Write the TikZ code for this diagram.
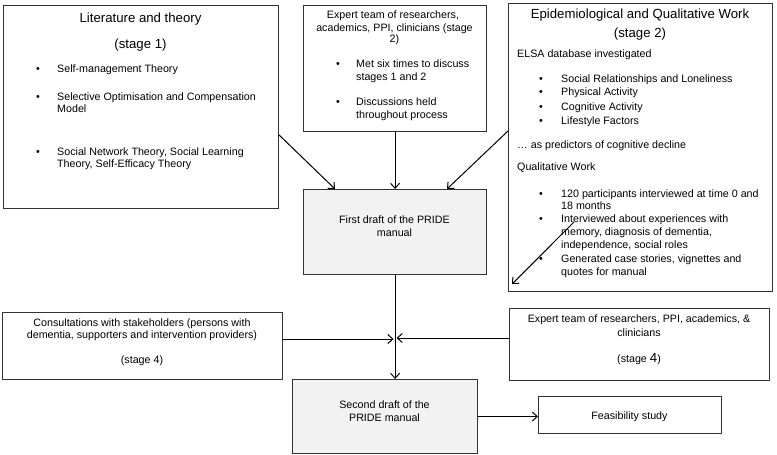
\documentclass[tikz,border=0pt]{standalone}
\usepackage{fontspec}
\setmainfont{Liberation Sans}
\usetikzlibrary{arrows.meta,calc}
\newcommand{\bodyfont}{\fontsize{10.7}{12.5}\selectfont}
\newcommand{\titlefont}{\fontsize{13.2}{15}\selectfont}
\definecolor{boxgray}{HTML}{F2F2F2}
\definecolor{edge}{HTML}{333333}
\begin{document}
\begin{tikzpicture}[x=1pt,y=-1pt,
  box/.style={draw=edge, line width=1.1pt, inner sep=0pt, anchor=north west, rectangle},
  fillbox/.style={box, fill=boxgray},
  arr/.style={draw=black, line width=1pt, -{Straight Barb[length=5pt,width=9pt]}},
  txt/.style={inner sep=0pt, font=\bodyfont, anchor=base west},
  txtc/.style={inner sep=0pt, font=\bodyfont, anchor=base},
  ttl/.style={inner sep=0pt, font=\titlefont, anchor=base},
  bul/.style={inner sep=0pt, font=\bodyfont, anchor=base}]
\useasboundingbox (0,0) rectangle (777,455);

% ---------- boxes ----------
\node[box, minimum width=275pt, minimum height=203pt] (lit) at (3,5) {};
\node[box, minimum width=183pt, minimum height=126pt] (exp2) at (303,5) {};
\node[box, minimum width=264pt, minimum height=288pt] (epi) at (508,3) {};
\node[fillbox, minimum width=183pt, minimum height=85pt] (fd) at (303,189) {};
\node[box, minimum width=280pt, minimum height=67pt] (cons) at (2,312) {};
\node[box, minimum width=260pt, minimum height=72pt] (exp4) at (509,308) {};
\node[fillbox, minimum width=185pt, minimum height=74pt] (sd) at (292,379) {};
\node[box, minimum width=183pt, minimum height=37pt] (feas) at (538,396) {};

% ---------- Literature and theory ----------
\node[ttl] (l0) at (140.5,22) {Literature and theory};
\node[ttl] (l0b) at (140.5,48) {(stage 1)};
\node[bul] (lb1) at (38,72) {\textbullet};
\node[txt] (l1) at (57,72) {Self-management Theory};
\node[bul] (lb2) at (38,100) {\textbullet};
\node[txt] (l2) at (57,100) {Selective Optimisation and Compensation};
\node[txt] (l2b) at (57,112) {Model};
\node[bul] (lb3) at (38,155) {\textbullet};
\node[txt] (l3) at (57,155) {Social Network Theory, Social Learning};
\node[txt] (l3b) at (57,167) {Theory, Self-Efficacy Theory};

% ---------- Expert team stage 2 ----------
\node[txtc] (e1) at (393,19) {Expert team of researchers,};
\node[txtc] (e2) at (394.5,31) {academics, PPI, clinicians (stage};
\node[txtc] (e3) at (394.5,42) {2)};
\node[bul] (eb1) at (338,67) {\textbullet};
\node[txt] (e4) at (356,67) {Met six times to discuss};
\node[txt] (e5) at (356,80) {stages 1 and 2};
\node[bul] (eb2) at (338,105) {\textbullet};
\node[txt] (e6) at (356,105) {Discussions held};
\node[txt] (e7) at (356,118) {throughout process};

% ---------- Epidemiological ----------
\node[ttl] (p0) at (640,18) {Epidemiological and Qualitative Work};
\node[ttl] (p0b) at (640,37) {(stage 2)};
\node[txt] (p1) at (517,57) {ELSA database investigated};
\node[bul] (pb1) at (541,82) {\textbullet};
\node[txt] (p2) at (561,82) {Social Relationships and Loneliness};
\node[bul] (pb2) at (541,95) {\textbullet};
\node[txt] (p3) at (561,95) {Physical Activity};
\node[bul] (pb3) at (541,110) {\textbullet};
\node[txt] (p4) at (561,110) {Cognitive Activity};
\node[bul] (pb4) at (541,124) {\textbullet};
\node[txt] (p5) at (561,124) {Lifestyle Factors};
\node[txt] (p6) at (517,148) {… as predictors of cognitive decline};
\node[txt] (p7) at (517,170) {Qualitative Work};
\node[bul] (pb5) at (541,197) {\textbullet};
\node[txt] (p8) at (561,197) {120 participants interviewed at time 0 and};
\node[txt] (p8b) at (561,209.5) {18 months};
\node[bul] (pb6) at (541,222.5) {\textbullet};
\node[txt] (p9) at (561,222.5) {Interviewed about experiences with};
\node[txt] (p9b) at (561,235) {memory, diagnosis of dementia,};
\node[txt] (p9c) at (561,248) {independence, social roles};
\node[bul] (pb7) at (541,262) {\textbullet};
\node[txt] (p10) at (561,262) {Generated case stories, vignettes and};
\node[txt] (p10b) at (561,275) {quotes for manual};

% ---------- drafts and stage 4 ----------
\node[txtc] (f1) at (394.5,223) {First draft of the PRIDE};
\node[txtc] (f2) at (394.5,236) {manual};
\node[txtc] (c1) at (142,326) {Consultations with stakeholders (persons with};
\node[txtc] (c2) at (142,338) {dementia, supporters and intervention providers)};
\node[txtc] (c3) at (142,363) {(stage 4)};
\node[txtc] (x1) at (639,322) {Expert team of researchers, PPI, academics, \&};
\node[txtc] (x2) at (639,336) {clinicians};
\node[txtc] (x3) at (639,362) {(stage {\fontsize{13.2}{15}\selectfont 4})};
\node[txtc] (s1) at (384.5,408) {Second draft of the};
\node[txtc] (s2) at (384.5,421) {PRIDE manual};
\node[txtc] (fs) at (629.5,419) {Feasibility study};

% ---------- connectors ----------
\coordinate (la) at ($(lit.north east)+(0,130)$);
\coordinate (lt) at ($(fd.north west)+(32,0)$);
\draw[arr] (la) -- (lt);
\draw[arr] (exp2.south) -- (fd.north);
\coordinate (ra) at ($(epi.north west)+(0,128)$);
\coordinate (rt) at ($(fd.north west)+(144,0)$);
\draw[arr] (ra) -- (rt);
\coordinate (qs) at (574,222);
\coordinate (qt) at ($(epi.south west)+(4,-8)$);
\draw[arr] (qs) -- (qt);
\draw[arr] (fd.south) -- (fd.south |- sd.north);
\coordinate (ca) at ($(cons.north east)+(0,27)$);
\coordinate (j) at (fd.south |- ca);
\draw[arr, shorten >=1.5pt] (ca) -- (j);
\coordinate (cb) at ($(exp4.north west)+(0,30)$);
\draw[arr, shorten >=1.5pt] (cb) -- (cb -| j);
\draw[arr] (sd.east) -- (sd.east -| feas.west);
\end{tikzpicture}
\end{document}
